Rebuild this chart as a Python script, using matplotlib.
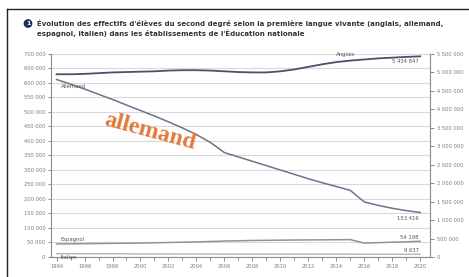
import numpy as np
import matplotlib.pyplot as plt
from matplotlib.ticker import FuncFormatter, MultipleLocator
from matplotlib.lines import Line2D

# Données
annees = list(range(1994, 2021))
anglais = [4.95, 4.95, 4.96, 4.98, 5.00, 5.01, 5.02, 5.03, 5.05, 5.06, 5.06, 5.05, 5.03, 5.01,
           5.00, 5.00, 5.03, 5.08, 5.15, 5.22, 5.28, 5.32, 5.35, 5.38, 5.40, 5.42, 5.434847]
anglais = [v * 1e6 for v in anglais]
allemand = [612, 596, 579, 561, 543, 524, 505, 486, 466, 445, 422, 395, 360, 345,
            330, 315, 300, 285, 270, 256, 243, 230, 190, 178, 168, 160, 153.416]
espagnol = [45, 45.5, 46, 46.5, 47, 47.5, 48, 49, 50, 51, 52, 53.5, 55, 56,
            57, 57.5, 58, 58.5, 59, 59, 59.5, 60, 48, 49.5, 51, 52.5, 54.198]
italien = [11.5, 11.5, 11.2, 11, 11, 10.8, 10.6, 10.5, 10.4, 10.3, 10.2, 10.1, 10, 10,
           10, 10, 10, 10, 10, 10, 10, 10, 9.6, 9.6, 9.6, 9.6, 9.637]
allemand = [v * 1e3 for v in allemand]
espagnol = [v * 1e3 for v in espagnol]
italien = [v * 1e3 for v in italien]

titre = ("Évolution des effectifs d'élèves du second degré selon la première langue vivante (anglais, allemand,\n"
         "espagnol, italien) dans les établissements de l'Éducation nationale")

gris = '#7a7a7a'
fmt = FuncFormatter(lambda v, p: f"{v:,.0f}".replace(",", " "))

fig = plt.figure(figsize=(4.69, 2.77), dpi=100)
ax = fig.add_axes([0.1087, 0.0722, 0.808, 0.733])
ax2 = ax.twinx()

# lignes (axe gauche)
ax.plot(annees, allemand, color='#69738c', lw=1.1, zorder=3)
ax.plot(annees, espagnol, color='#8f939b', lw=1.1, zorder=3)
ax.plot(annees, italien, color='#a8acb3', lw=0.9, zorder=3)
# anglais (axe droit)
ax2.plot(annees, anglais, color='#4b5166', lw=1.3, zorder=3)

ax.set_xlim(1993.6, 2020.7)
ax.set_ylim(0, 700000)
ax2.set_ylim(0, 5500000)
ax.yaxis.set_major_locator(MultipleLocator(50000))
ax2.yaxis.set_major_locator(MultipleLocator(500000))
ax.yaxis.set_major_formatter(fmt)
ax2.yaxis.set_major_formatter(fmt)
ax.set_xticks(range(1994, 2021, 2))
ax.xaxis.set_minor_locator(MultipleLocator(1))
ax.grid(axis='y', color='#d9d9d9', lw=0.8, zorder=0)
ax.set_axisbelow(True)

for a in (ax, ax2):
    a.spines['top'].set_visible(False)
    for s in a.spines.values():
        s.set_color('#8a8a8a')
        s.set_linewidth(0.8)
ax.spines['right'].set_visible(False)
ax2.spines['left'].set_visible(False)
ax2.spines['bottom'].set_visible(False)

ax.tick_params(axis='y', labelsize=3.7, colors=gris, length=2, width=0.6, pad=2)
ax2.tick_params(axis='y', labelsize=3.7, colors=gris, length=3, width=0.6, pad=2)
ax.tick_params(axis='x', which='major', labelsize=3.7, colors=gris, length=3, width=0.6, pad=2)
ax.tick_params(axis='x', which='minor', length=2, width=0.6, color=gris)

# étiquettes des séries
lab = dict(fontsize=3.8, color='#555555')
ax2.text(2014.0, 5.42e6, 'Anglais', ha='left', va='bottom', **lab)
ax2.text(2019.9, 5.36e6, '5 434 847', ha='right', va='top', **lab)
ax.text(1994.3, 596000, 'Allemand', ha='left', va='top', **lab)
ax.text(2019.9, 140000, '153 416', ha='right', va='top', **lab)
ax.text(1994.3, 50000, 'Espagnol', ha='left', va='bottom', **lab)
ax.text(2019.9, 58000, '54 198', ha='right', va='bottom', **lab)
ax.text(1994.3, 8000, 'Italien', ha='left', va='top', **lab)
ax.text(2019.9, 14000, '9 637', ha='right', va='bottom', **lab)

# annotation orange
ax.text(2000.7, 432000, 'allemand', fontsize=17, family='Liberation Serif', weight='bold',
        color='#e07a3c', rotation=-15, ha='center', va='center', zorder=5)

# titre
fig.text(37 / 469, 1 - 28.5 / 277, titre, fontsize=5.05, weight='bold', color='#333333',
         ha='left', va='center', linespacing=1.45)
fig.text(28 / 469, 1 - 23.5 / 277, '1', fontsize=4.5, weight='bold', color='white',
         ha='center', va='center',
         bbox=dict(boxstyle='circle,pad=0.3', fc='#1f2e5e', ec='none'))

# cadre
fig.add_artist(Line2D([7 / 469, 7 / 469], [0, 1 - 9 / 277], transform=fig.transFigure,
                      color='#222222', lw=1.0))
fig.add_artist(Line2D([7 / 469, 1], [1 - 9 / 277, 1 - 9 / 277], transform=fig.transFigure,
                      color='#222222', lw=1.0))

plt.savefig('out.png', dpi=100)
